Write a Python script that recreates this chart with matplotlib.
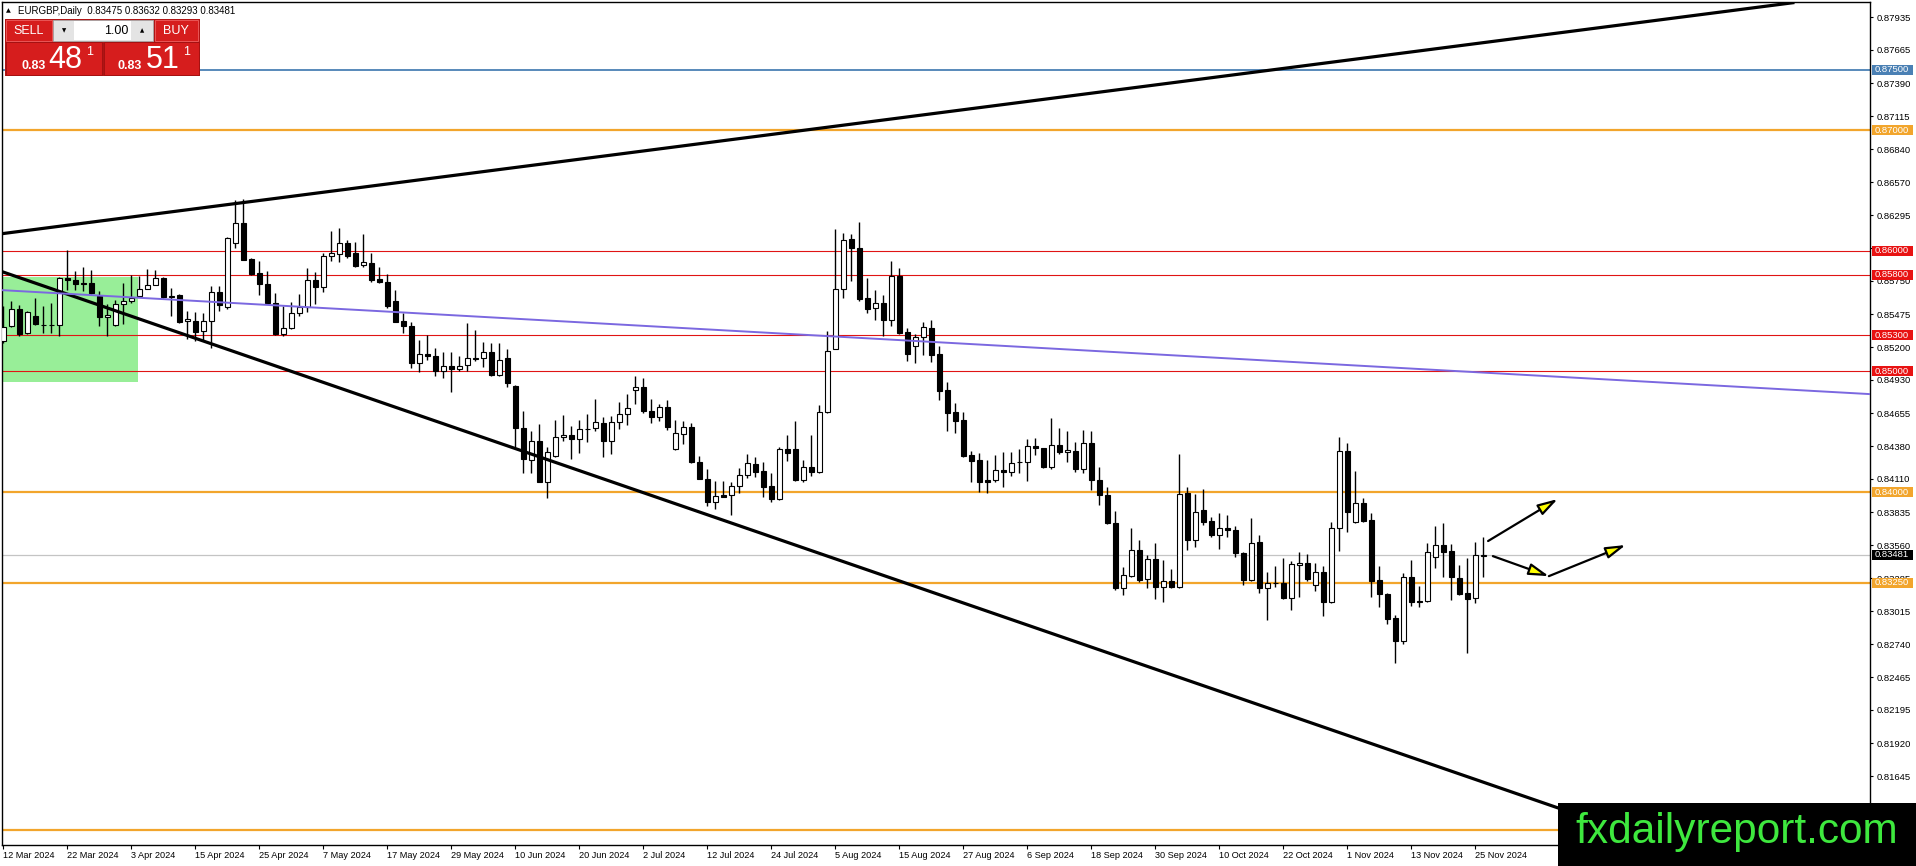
import numpy as np
import matplotlib
matplotlib.use("Agg")
import matplotlib.pyplot as plt
import matplotlib.transforms as mtransforms
from matplotlib.patches import Rectangle

plt.rcParams["font.family"] = ["Liberation Sans", "DejaVu Sans"]

# ---------------- DATA (EURGBP daily, 12 Mar 2024 - 26 Nov 2024) ----------------
opens = [
    0.85253, 0.85376, 0.85519, 0.85316, 0.85459, 0.85388, 0.85385, 0.85385, 0.85775, 0.85761,
    0.85730, 0.85734, 0.85624, 0.85453, 0.85382, 0.85563, 0.85588, 0.85624, 0.85687, 0.85720,
    0.85775, 0.85615, 0.85635, 0.85415, 0.85418, 0.85335, 0.85418, 0.85660, 0.85536, 0.86063,
    0.86228, 0.85931, 0.85815, 0.85724, 0.85567, 0.85311, 0.85358, 0.85485, 0.85532, 0.85758,
    0.85697, 0.85953, 0.85972, 0.86061, 0.85981, 0.85882, 0.85898, 0.85766, 0.85738, 0.85581,
    0.85416, 0.85380, 0.85072, 0.85143, 0.85127, 0.85008, 0.85044, 0.85022, 0.85055, 0.85113,
    0.85113, 0.85160, 0.84972, 0.85110, 0.84882, 0.84532, 0.84266, 0.84426, 0.84084, 0.84303,
    0.84454, 0.84471, 0.84440, 0.84524, 0.84532, 0.84574, 0.84426, 0.84583, 0.84650, 0.84849,
    0.84868, 0.84672, 0.84625, 0.84709, 0.84356, 0.84485, 0.84541, 0.84246, 0.84112, 0.83916,
    0.83978, 0.83978, 0.84050, 0.84140, 0.84236, 0.84175, 0.84050, 0.83947, 0.84355, 0.84355,
    0.84100, 0.84211, 0.84169, 0.84668, 0.85186, 0.85684, 0.86094, 0.86025, 0.85610, 0.85526,
    0.85568, 0.85424, 0.85795, 0.85330, 0.85208, 0.85285, 0.85360, 0.85147, 0.84848, 0.84662,
    0.84598, 0.84307, 0.84266, 0.84100, 0.84100, 0.84181, 0.84170, 0.84247, 0.84253, 0.84379,
    0.84365, 0.84212, 0.84390, 0.84330, 0.84343, 0.84192, 0.84404, 0.84104, 0.83978, 0.83747,
    0.83203, 0.83308, 0.83519, 0.83277, 0.83445, 0.83212, 0.83266, 0.83212, 0.83992, 0.83602,
    0.83849, 0.83758, 0.83648, 0.83706, 0.83684, 0.83492, 0.83276, 0.83584, 0.83205, 0.83247,
    0.83247, 0.83123, 0.83397, 0.83411, 0.83233, 0.83342, 0.83088, 0.83707, 0.84342, 0.83753,
    0.83912, 0.83767, 0.83274, 0.83159, 0.82959, 0.82767, 0.83301, 0.83096, 0.83096, 0.83466,
    0.83562, 0.83512, 0.83288, 0.83164, 0.83123, 0.83475,
]
highs = [
    0.85541, 0.85582, 0.85555, 0.85500, 0.85610, 0.85541, 0.85569, 0.85783, 0.86008, 0.85835,
    0.85865, 0.85843, 0.85665, 0.85563, 0.85596, 0.85734, 0.85802, 0.85794, 0.85849, 0.85843,
    0.85783, 0.85692, 0.85640, 0.85500, 0.85492, 0.85486, 0.85706, 0.85706, 0.86118, 0.86420,
    0.86426, 0.85937, 0.85917, 0.85834, 0.85650, 0.85545, 0.85573, 0.85642, 0.85854, 0.85826,
    0.85986, 0.86165, 0.86193, 0.86091, 0.86074, 0.86138, 0.85986, 0.85862, 0.85804, 0.85678,
    0.85485, 0.85408, 0.85262, 0.85303, 0.85193, 0.85165, 0.85160, 0.85132, 0.85400, 0.85344,
    0.85242, 0.85234, 0.85234, 0.85187, 0.84890, 0.84672, 0.84504, 0.84569, 0.84373, 0.84602,
    0.84636, 0.84546, 0.84602, 0.84644, 0.84770, 0.84625, 0.84630, 0.84748, 0.84812, 0.84966,
    0.84944, 0.84770, 0.84728, 0.84765, 0.84594, 0.84588, 0.84574, 0.84303, 0.84196, 0.84092,
    0.84090, 0.84084, 0.84204, 0.84314, 0.84294, 0.84247, 0.84155, 0.84377, 0.84474, 0.84593,
    0.84266, 0.84474, 0.84723, 0.85332, 0.86183, 0.86144, 0.86136, 0.86238, 0.85776, 0.85679,
    0.85637, 0.85914, 0.85859, 0.85360, 0.85310, 0.85407, 0.85429, 0.85213, 0.84909, 0.84737,
    0.84662, 0.84343, 0.84321, 0.84266, 0.84307, 0.84333, 0.84335, 0.84357, 0.84440, 0.84448,
    0.84370, 0.84613, 0.84530, 0.84503, 0.84412, 0.84514, 0.84503, 0.84212, 0.84041, 0.83843,
    0.83382, 0.83703, 0.83607, 0.83483, 0.83580, 0.83437, 0.83360, 0.84316, 0.84041, 0.83981,
    0.84027, 0.83794, 0.83830, 0.83813, 0.83717, 0.83505, 0.83784, 0.83649, 0.83342, 0.83384,
    0.83452, 0.83430, 0.83504, 0.83485, 0.83416, 0.83389, 0.83753, 0.84458, 0.84405, 0.84173,
    0.83953, 0.83830, 0.83392, 0.83164, 0.82986, 0.83329, 0.83438, 0.83225, 0.83575, 0.83718,
    0.83745, 0.83570, 0.83397, 0.83452, 0.83589, 0.83632,
]
lows = [
    0.85239, 0.85371, 0.85294, 0.85308, 0.85382, 0.85316, 0.85316, 0.85294, 0.85679, 0.85679,
    0.85665, 0.85646, 0.85376, 0.85294, 0.85376, 0.85390, 0.85569, 0.85618, 0.85684, 0.85714,
    0.85610, 0.85459, 0.85404, 0.85272, 0.85253, 0.85253, 0.85198, 0.85500, 0.85522, 0.86022,
    0.85920, 0.85802, 0.85633, 0.85559, 0.85303, 0.85297, 0.85353, 0.85457, 0.85496, 0.85559,
    0.85661, 0.85917, 0.85904, 0.85937, 0.85870, 0.85862, 0.85744, 0.85733, 0.85529, 0.85408,
    0.85320, 0.85028, 0.84994, 0.85099, 0.84961, 0.84945, 0.84829, 0.85008, 0.85008, 0.85091,
    0.85036, 0.84961, 0.84966, 0.84868, 0.84373, 0.84160, 0.84160, 0.84084, 0.83952, 0.84294,
    0.84420, 0.84275, 0.84328, 0.84412, 0.84504, 0.84289, 0.84314, 0.84524, 0.84560, 0.84734,
    0.84653, 0.84574, 0.84588, 0.84513, 0.84350, 0.84401, 0.84238, 0.84106, 0.83888, 0.83860,
    0.83958, 0.83812, 0.83992, 0.84120, 0.84125, 0.83961, 0.83920, 0.83939, 0.84260, 0.84094,
    0.84086, 0.84133, 0.84155, 0.84654, 0.85186, 0.85609, 0.85748, 0.85582, 0.85485, 0.85424,
    0.85291, 0.85380, 0.85313, 0.85091, 0.85069, 0.85139, 0.85075, 0.84765, 0.84510, 0.84488,
    0.84294, 0.84086, 0.84003, 0.83989, 0.84086, 0.84040, 0.84137, 0.84157, 0.84096, 0.84310,
    0.84200, 0.84192, 0.84316, 0.84247, 0.84165, 0.84157, 0.84014, 0.83890, 0.83740, 0.83190,
    0.83148, 0.83300, 0.83258, 0.83203, 0.83113, 0.83093, 0.83203, 0.83203, 0.83519, 0.83547,
    0.83725, 0.83629, 0.83525, 0.83629, 0.83464, 0.83231, 0.83266, 0.83164, 0.82940, 0.83214,
    0.83118, 0.83022, 0.83132, 0.83260, 0.83178, 0.82973, 0.83082, 0.83515, 0.83671, 0.83745,
    0.83753, 0.83132, 0.83047, 0.82904, 0.82584, 0.82740, 0.83060, 0.83049, 0.83090, 0.83375,
    0.83301, 0.83110, 0.83151, 0.82671, 0.83082, 0.83293,
]
closes = [
    0.85371, 0.85519, 0.85308, 0.85492, 0.85390, 0.85385, 0.85388, 0.85775, 0.85758, 0.85725,
    0.85725, 0.85651, 0.85453, 0.85470, 0.85560, 0.85582, 0.85610, 0.85684, 0.85714, 0.85775,
    0.85615, 0.85626, 0.85409, 0.85437, 0.85327, 0.85418, 0.85660, 0.85550, 0.86110, 0.86228,
    0.85926, 0.85812, 0.85724, 0.85567, 0.85311, 0.85361, 0.85482, 0.85532, 0.85758, 0.85702,
    0.85953, 0.85978, 0.86061, 0.85959, 0.85876, 0.85904, 0.85758, 0.85738, 0.85540, 0.85413,
    0.85375, 0.85072, 0.85141, 0.85127, 0.85008, 0.85044, 0.85022, 0.85044, 0.85110, 0.85102,
    0.85160, 0.84972, 0.85099, 0.84905, 0.84532, 0.84272, 0.84426, 0.84084, 0.84330, 0.84457,
    0.84471, 0.84440, 0.84524, 0.84522, 0.84583, 0.84420, 0.84583, 0.84650, 0.84700, 0.84868,
    0.84672, 0.84625, 0.84709, 0.84538, 0.84490, 0.84541, 0.84252, 0.84112, 0.83916, 0.83972,
    0.83964, 0.84050, 0.84146, 0.84238, 0.84169, 0.84044, 0.83947, 0.84355, 0.84327, 0.84100,
    0.84211, 0.84169, 0.84668, 0.85166, 0.85684, 0.86089, 0.86025, 0.85604, 0.85518, 0.85568,
    0.85424, 0.85795, 0.85319, 0.85147, 0.85285, 0.85366, 0.85139, 0.84842, 0.84654, 0.84593,
    0.84299, 0.84260, 0.84086, 0.84086, 0.84183, 0.84170, 0.84242, 0.84253, 0.84379, 0.84363,
    0.84212, 0.84390, 0.84330, 0.84349, 0.84192, 0.84407, 0.84104, 0.83978, 0.83745, 0.83203,
    0.83313, 0.83519, 0.83272, 0.83450, 0.83212, 0.83266, 0.83212, 0.83986, 0.83607, 0.83835,
    0.83753, 0.83643, 0.83706, 0.83690, 0.83492, 0.83272, 0.83582, 0.83205, 0.83247, 0.83250,
    0.83123, 0.83403, 0.83411, 0.83280, 0.83342, 0.83088, 0.83707, 0.84342, 0.83836, 0.83912,
    0.83762, 0.83266, 0.83156, 0.82945, 0.82767, 0.83301, 0.83088, 0.83093, 0.83501, 0.83562,
    0.83507, 0.83293, 0.83159, 0.83115, 0.83480, 0.83481,
]

date_labels = [
    "12 Mar 2024", "22 Mar 2024", "3 Apr 2024", "15 Apr 2024", "25 Apr 2024", "7 May 2024",
    "17 May 2024", "29 May 2024", "10 Jun 2024", "20 Jun 2024", "2 Jul 2024", "12 Jul 2024",
    "24 Jul 2024", "5 Aug 2024", "15 Aug 2024", "27 Aug 2024", "6 Sep 2024", "18 Sep 2024",
    "30 Sep 2024", "10 Oct 2024", "22 Oct 2024", "1 Nov 2024", "13 Nov 2024", "25 Nov 2024",
]
price_ticks = [
    0.81645, 0.81920, 0.82195, 0.82465, 0.82740, 0.83015, 0.83285, 0.83560, 0.83835, 0.84110,
    0.84380, 0.84655, 0.84930, 0.85200, 0.85475, 0.85750, 0.86020, 0.86295, 0.86570, 0.86840,
    0.87115, 0.87390, 0.87665, 0.87935,
]

# horizontal levels drawn on the chart (the 0.812 label sits under the watermark)
level_prices = [0.87500, 0.87000, 0.86000, 0.85800, 0.85300, 0.85000, 0.84000, 0.83250, 0.81200]
level_kinds = ["blue", "orange", "red", "red", "red", "red", "orange", "orange", "orange"]
level_labeled = [True, True, True, True, True, True, True, True, False]
last_price = 0.83481

# trendlines (bar index, price)
upper_trend = ([-0.4, 223.7], [0.86140, 0.88056])
lower_trend = ([-0.4, 200.0], [0.85833, 0.81254])
blue_trend = ([-0.4, 240.0], [0.85675, 0.84788])
green_zone = ([-0.4, 16.8], [0.84915, 0.85780])

# arrows (start bar, start price, end bar, end price)
arrows = [
    (185.6, 0.83595, 194.3, 0.83943),
    (186.2, 0.83470, 193.2, 0.83304),
    (193.2, 0.83304, 202.8, 0.83562),
]

# ---------------- FIGURE ----------------
W, H = 1916, 866
fig = plt.figure(figsize=(W / 100, H / 100), dpi=100)
fig.patch.set_facecolor("white")
ax = fig.add_axes([2 / W, (H - 845) / H, 1868 / W, 843 / H])
ax.set_xlim(-0.16, 233.34)
ax.set_ylim(0.81076, 0.88062)

COLORS = {"red": "#e01414", "orange": "#f2a52c", "blue": "#4a80b4"}
WIDTHS = {"red": 0.8, "orange": 1.6, "blue": 1.3}


def fig_rect(x0, y0, x1, y1, **kw):
    fig.add_artist(Rectangle((x0 / W, 1 - y1 / H), (x1 - x0) / W, (y1 - y0) / H,
                             transform=fig.transFigure, **kw))


def fig_text(x, y, s, **kw):
    fig.text(x / W, 1 - y / H, s, **kw)


# green zone
gx, gy = green_zone
ax.add_patch(Rectangle((gx[0], gy[0]), gx[1] - gx[0], gy[1] - gy[0],
                       facecolor="#98ee98", edgecolor="none", zorder=0.5))

# levels
for p, k in zip(level_prices, level_kinds):
    ax.axhline(p, color=COLORS[k], lw=WIDTHS[k], zorder=1)
ax.axhline(last_price, color="#c4c4c4", lw=0.9, zorder=1)

# ---------------- CANDLES ----------------
o = np.array(opens)
h = np.array(highs)
l = np.array(lows)
c = np.array(closes)
x = np.arange(len(o))
up = c >= o
bottom = np.minimum(o, c)
height = np.abs(c - o)

ax.vlines(x, l, h, color="black", lw=1.0, zorder=2)
ax.bar(x[up], height[up], bottom=bottom[up], width=0.6, facecolor="white",
       edgecolor="black", lw=0.8, zorder=3)
ax.bar(x[~up], height[~up], bottom=bottom[~up], width=0.6, facecolor="black",
       edgecolor="black", lw=0.8, zorder=3)

# ---------------- TRENDLINES / ARROWS ----------------
ax.plot(*upper_trend, color="black", lw=2.3, zorder=4)
ax.plot(*lower_trend, color="black", lw=2.3, zorder=4)
ax.plot(*blue_trend, color="#7b68e0", lw=1.4, zorder=4)

for x0, y0, x1, y1 in arrows:
    ax.annotate("", xy=(x1, y1), xytext=(x0, y0), zorder=5,
                arrowprops=dict(arrowstyle="-|>,head_length=1.2,head_width=0.35",
                                fc="#ffff00", ec="black", lw=1.6,
                                shrinkA=0, shrinkB=0, mutation_scale=10))

# ---------------- AXES ----------------
for sp in ax.spines.values():
    sp.set_color("black")
    sp.set_linewidth(1.0)

ax.set_xticks(np.arange(0, len(date_labels) * 8, 8))
ax.set_xticklabels(date_labels, fontsize=6.6, ha="left")
ax.tick_params(axis="x", length=3, width=0.8, pad=1.5, direction="out")

ax.yaxis.tick_right()
ax.set_yticks(price_ticks)
ax.set_yticklabels([f"{t:.5f}" for t in price_ticks], fontsize=6.8)
ax.tick_params(axis="y", length=2.5, width=0.8, pad=2.5, direction="out")

# price labels on the right scale
lbl = mtransforms.blended_transform_factory(fig.transFigure, ax.transData)
box_h = 10 / 843 * (0.88062 - 0.81076)
lbl_bg = {"red": "#e81212", "orange": "#f2a52c", "blue": "#4a80b4"}
for p, k, show in zip(level_prices, level_kinds, level_labeled):
    if not show:
        continue
    ax.add_patch(Rectangle((1872 / W, p - box_h / 2), 41 / W, box_h, transform=lbl,
                           facecolor=lbl_bg[k], edgecolor="none", clip_on=False, zorder=6))
    ax.text(1892 / W, p, f"{p:.5f}", transform=lbl, color="white", fontsize=6.8,
            ha="center", va="center", clip_on=False, zorder=7)
ax.add_patch(Rectangle((1872 / W, last_price - box_h / 2), 41 / W, box_h, transform=lbl,
                       facecolor="black", edgecolor="none", clip_on=False, zorder=6))
ax.text(1892 / W, last_price, f"{last_price:.5f}", transform=lbl, color="white",
        fontsize=6.8, ha="center", va="center", clip_on=False, zorder=7)

# ---------------- HEADER / TRADE PANEL ----------------
fig_text(6, 11, "\u25b2", fontsize=4.5, va="center", family="DejaVu Sans")
fig_text(18, 11, "EURGBP,Daily  %.5f %.5f %.5f %.5f" % (opens[-1], highs[-1], lows[-1], closes[-1]),
         fontsize=7, va="center")

red = "#d61d1d"
fig_rect(5, 19, 200, 76, facecolor="#b01414", edgecolor="none")
fig_rect(6, 20, 52, 41, facecolor=red, edgecolor="#f06060", lw=0.6)
fig_text(29, 31, "SELL", color="white", fontsize=9, ha="center", va="center")
fig_rect(53, 20, 153, 41, facecolor="#e4e4e4", edgecolor="#a8a8a8", lw=0.6)
fig_rect(74, 21, 131, 40, facecolor="white", edgecolor="none")
fig_text(64, 31, "\u25bc", fontsize=4, ha="center", va="center", family="DejaVu Sans")
fig_text(142, 31, "\u25b2", fontsize=4, ha="center", va="center", family="DejaVu Sans")
fig_text(128, 31, "1.00", fontsize=9, ha="right", va="center")
fig_rect(155, 20, 198, 41, facecolor=red, edgecolor="#f06060", lw=0.6)
fig_text(176, 31, "BUY", color="white", fontsize=9, ha="center", va="center")

fig_rect(6, 42, 102, 75, facecolor=red, edgecolor="#a01010", lw=0.6)
fig_rect(104, 42, 199, 75, facecolor=red, edgecolor="#a01010", lw=0.6)
fig_text(21, 69, "0.83", color="white", fontsize=9, weight="bold", va="baseline")
fig_text(48, 68, "48", color="white", fontsize=22, va="baseline")
fig_text(86, 55, "1", color="white", fontsize=9, va="baseline")
fig_text(118, 69, "0.83", color="white", fontsize=9, weight="bold", va="baseline")
fig_text(146, 68, "51", color="white", fontsize=22, va="baseline")
fig_text(183, 55, "1", color="white", fontsize=9, va="baseline")

# ---------------- WATERMARK ----------------
fig_rect(1558, 803, 1916, 866, facecolor="black", edgecolor="none", zorder=5)
fig_text(1737, 843, "fxdailyreport.com", color="#3ee83e", fontsize=30.5,
         ha="center", va="baseline", zorder=6)

fig.savefig("out.png", dpi=100, facecolor="white")
